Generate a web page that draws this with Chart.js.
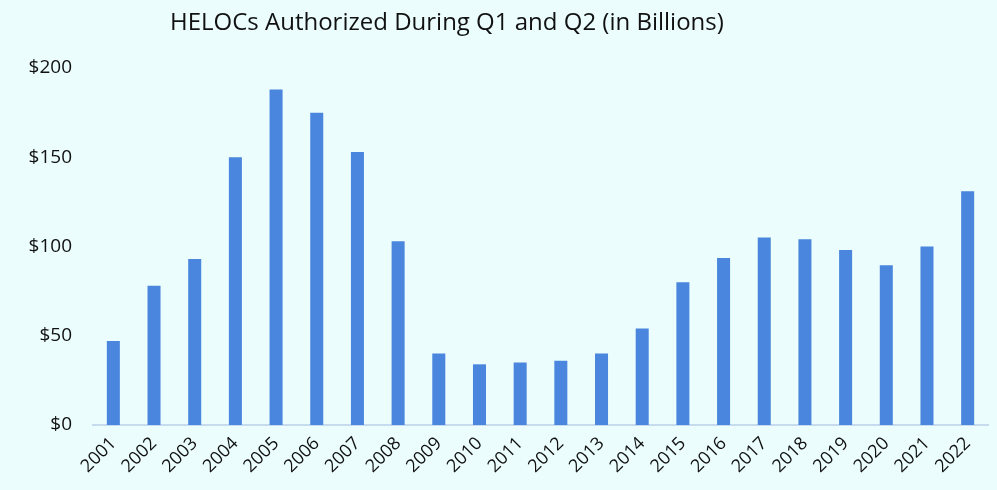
<!DOCTYPE html>
<html>
<head>
<meta charset="utf-8">
<script src="https://cdn.jsdelivr.net/npm/chart.js@4.4.0/dist/chart.umd.min.js"></script>
<style>
  html, body { margin: 0; padding: 0; background: #ebfdfd; }
  #wrap { position: relative; width: 997px; height: 490px; }
  #title {
    position: absolute; left: 170px; top: 4px;
    font-family: "Open Sans", sans-serif; font-size: 24px; color: #111;
    white-space: nowrap;
  }
</style>
</head>
<body>
<div id="wrap">
  <div id="title">HELOCs Authorized During Q1 and Q2 (in Billions)</div>
  <canvas id="myChart" width="997" height="490"></canvas>
</div>
<script>
// values
const years = ['2001','2002','2003','2004','2005','2006','2007','2008','2009','2010','2011',
  '2012','2013','2014','2015','2016','2017','2018','2019','2020','2021','2022'];
const helocs = [47, 78, 93, 150, 188, 175, 153, 103, 40, 34, 35,
  36, 40, 54, 80, 93.5, 105, 104, 98, 89.5, 100, 131];
const yTicks = [0, 50, 100, 150, 200];

const ctx = document.getElementById('myChart').getContext('2d');
const myChart = new Chart(ctx, {
  type: 'bar',
  data: {
    labels: years,
    datasets: [{
      label: 'HELOCs',
      data: helocs,
      backgroundColor: '#4a86dd',
      barPercentage: 0.32,
      categoryPercentage: 1
    }]
  },
  options: {
    responsive: false,
    animation: false,
    layout: { padding: { top: 68, right: 9, left: 0, bottom: 0 } },
    plugins: {
      legend: { display: false },
      tooltip: { enabled: false }
    },
    scales: {
      x: {
        grid: { display: false },
        border: { display: true, color: '#c6dcee', width: 2 },
        ticks: {
          color: '#111',
          font: { family: 'Open Sans', size: 18 },
          minRotation: 45,
          maxRotation: 45,
          padding: 0
        },
        afterFit: (scale) => { scale.height = 65; }
      },
      y: {
        min: 0,
        max: 200,
        afterBuildTicks: (scale) => { scale.ticks = yTicks.map(v => ({ value: v })); },
        grid: { display: false, drawTicks: false },
        border: { display: false },
        ticks: {
          color: '#111',
          font: { family: 'Open Sans', size: 19 },
          padding: 21,
          callback: (v) => '$' + v
        },
        afterFit: (scale) => { scale.width = 93; }
      }
    }
  }
});
</script>
</body>
</html>
